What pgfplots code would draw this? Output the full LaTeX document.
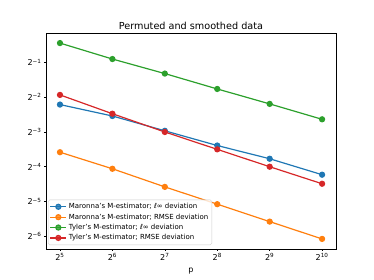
\documentclass[border=0pt]{standalone}
\usepackage{pgfplots}
\pgfplotsset{compat=1.18}
\usepackage{fontspec}
\setmainfont{DejaVu Sans}
\definecolor{tabblue}{HTML}{1F77B4}
\definecolor{taborange}{HTML}{FF7F0E}
\definecolor{tabgreen}{HTML}{2CA02C}
\definecolor{tabred}{HTML}{D62728}
\begin{document}
\begin{tikzpicture}
\useasboundingbox (-46bp,-31bp) rectangle (328bp,249bp);
\begin{axis}[
  at={(0,0)}, anchor=south west,
  scale only axis, width=290bp, height=216bp,
  xmode=log, ymode=log, log basis x=2, log basis y=2,
  xmin=26.6, xmax=1231, ymin=0.0121, ymax=0.901,
  xtick={32,64,128,256,512,1024},
  xticklabels={2\textsuperscript{5},2\textsuperscript{6},2\textsuperscript{7},2\textsuperscript{8},2\textsuperscript{9},2\textsuperscript{10}},
  ytick={0.015625,0.03125,0.0625,0.125,0.25,0.5},
  yticklabels={2\textsuperscript{−6},2\textsuperscript{−5},2\textsuperscript{−4},2\textsuperscript{−3},2\textsuperscript{−2},2\textsuperscript{−1}},
  minor xtick={}, minor ytick={},
  tick align=outside, major tick length=2bp,
  xtick pos=left, ytick pos=left,
  tick style={black, line width=0.5pt},
  ticklabel style={font=\fontsize{8.1}{9.7}\selectfont},
  xticklabel style={yshift=1bp},
  yticklabel style={xshift=1bp},
  axis line style={line width=0.5pt},
  title={Permuted and smoothed data},
  title style={font=\fontsize{9.7}{11.6}\selectfont, yshift=-6.5bp},
  xlabel={p},
  xlabel style={font=\fontsize{8.1}{9.7}\selectfont, yshift=-1bp},
  every axis plot/.append style={line width=1.2bp, mark=*, mark size=2.5bp},
  legend cell align=left,
  legend style={font=\fontsize{7.0}{8.6}\selectfont, draw=black!20, rounded corners=1.5bp,
    fill=white, fill opacity=0.8, text opacity=1, draw opacity=1, at={(0.007,0.0185)}, anchor=south west,
    inner sep=1.5bp, row sep=-0.4bp},
  legend image code/.code={
    \draw[mark repeat=2,mark phase=2] plot coordinates {(0bp,0bp) (8bp,0bp) (16bp,0bp)};},
]
\addplot[color=tabblue, mark options={fill=tabblue}] coordinates {(32,0.216) (64,0.172) (128,0.128) (256,0.0954) (512,0.0733) (1024,0.0533)};
\addlegendentry{Maronna's M-estimator; \textit{ℓ}∞ deviation}
\addplot[color=taborange, mark options={fill=taborange}] coordinates {(32,0.0835) (64,0.0600) (128,0.0418) (256,0.0296) (512,0.0209) (1024,0.0148)};
\addlegendentry{Maronna's M-estimator; RMSE deviation}
\addplot[color=tabgreen, mark options={fill=tabgreen}] coordinates {(32,0.737) (64,0.536) (128,0.401) (256,0.295) (512,0.219) (1024,0.161)};
\addlegendentry{Tyler's M-estimator; \textit{ℓ}∞ deviation}
\addplot[color=tabred, mark options={fill=tabred}] coordinates {(32,0.262) (64,0.180) (128,0.125) (256,0.0884) (512,0.0625) (1024,0.0445)};
\addlegendentry{Tyler's M-estimator; RMSE deviation}
\end{axis}
\end{tikzpicture}
\end{document}
